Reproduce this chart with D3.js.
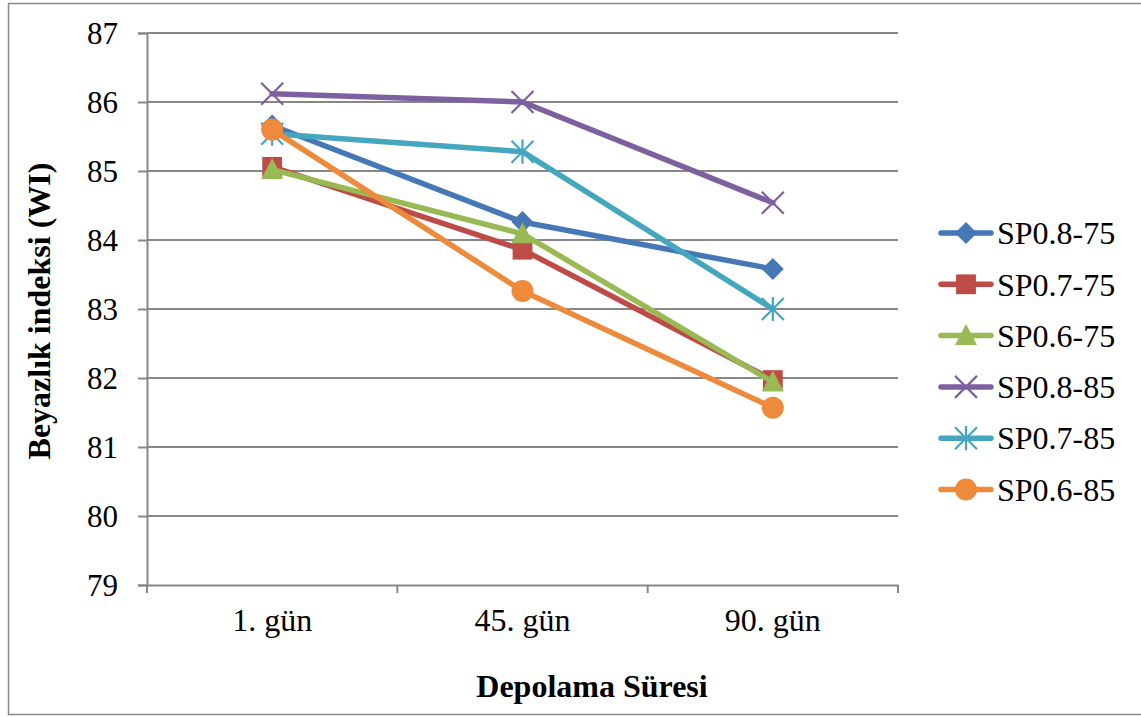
<!DOCTYPE html>
<html>
<head>
<meta charset="utf-8">
<script src="https://cdn.jsdelivr.net/npm/d3@7"></script>
<style>
  body { margin: 0; background: #fff; }
</style>
</head>
<body>
<div class="canvas"></div>
<script>
// Data
const categories = ['1. gün', '45. gün', '90. gün'];
const seriesNames = ['SP0.8-75', 'SP0.7-75', 'SP0.6-75', 'SP0.8-85', 'SP0.7-85', 'SP0.6-85'];
const sp08_75 = [85.66, 84.26, 83.58];
const sp07_75 = [85.06, 83.86, 81.97];
const sp06_75 = [85.02, 84.09, 81.94];
const sp08_85 = [86.12, 86.00, 84.54];
const sp07_85 = [85.54, 85.28, 83.00];
const sp06_85 = [85.60, 83.26, 81.57];
const yTicks = [79, 80, 81, 82, 83, 84, 85, 86, 87];

const seriesValues = [sp08_75, sp07_75, sp06_75, sp08_85, sp07_85, sp06_85];
const colors = ['#4677B7', '#BE4B48', '#98B954', '#7D60A0', '#45A6C0', '#EE8A3C'];
const symbols = ['diamond', 'square', 'triangle', 'x', 'star', 'circle'];

const FONT = "'Liberation Serif', 'Times New Roman', Times, serif";
const width = 1141, height = 717;
const plot = { left: 147, right: 898, top: 33, bottom: 585 };

//Canvas
const svg = d3.select('.canvas')
  .append('svg')
  .attr('width', width)
  .attr('height', height)
  .attr('font-family', FONT);

// outer border (right side runs off the picture)
svg.append('rect')
  .attr('x', 8.5).attr('y', 3.5)
  .attr('width', 1140).attr('height', 711)
  .attr('fill', 'none')
  .attr('stroke', '#888')
  .attr('stroke-width', 1.5);

// Scales
const x = d3.scaleBand().domain(categories).range([plot.left, plot.right]);
const y = d3.scaleLinear().domain([79, 87]).range([plot.bottom, plot.top]);

// Gridlines
svg.append('g')
  .selectAll('line')
  .data(yTicks.slice(1))
  .enter().append('line')
  .attr('x1', plot.left).attr('x2', plot.right)
  .attr('y1', d => y(d)).attr('y2', d => y(d))
  .attr('stroke', '#878787')
  .attr('stroke-width', 2);

// Y axis
const yAxis = svg.append('g')
  .attr('transform', `translate(${plot.left},0)`)
  .call(d3.axisLeft(y).tickValues(yTicks).tickSize(9).tickPadding(20).tickFormat(d3.format('d')));
yAxis.attr('font-family', FONT).attr('font-size', 31);
yAxis.select('.domain').attr('stroke', '#878787').attr('stroke-width', 2);
yAxis.selectAll('.tick line').attr('stroke', '#878787').attr('stroke-width', 2);
yAxis.selectAll('text').attr('fill', '#000').attr('dy', '0.34em');

// X axis
const xAxis = svg.append('g')
  .attr('transform', `translate(0,${plot.bottom})`)
  .call(d3.axisBottom(x).tickSize(0).tickPadding(23));
xAxis.attr('font-family', FONT).attr('font-size', 32);
xAxis.select('.domain').attr('stroke', '#878787').attr('stroke-width', 2);
xAxis.selectAll('text').attr('fill', '#000');
// boundary tick marks
svg.append('g')
  .selectAll('line')
  .data(d3.range(categories.length + 1))
  .enter().append('line')
  .attr('x1', i => plot.left + i * x.step())
  .attr('x2', i => plot.left + i * x.step())
  .attr('y1', plot.bottom).attr('y2', plot.bottom + 8)
  .attr('stroke', '#878787').attr('stroke-width', 2);

// Axis titles
svg.append('text')
  .attr('transform', `translate(50,311) rotate(-90)`)
  .attr('text-anchor', 'middle')
  .attr('font-size', 32).attr('font-weight', 'bold')
  .text('Beyazlık indeksi (WI)');
svg.append('text')
  .attr('x', 592).attr('y', 697)
  .attr('text-anchor', 'middle')
  .attr('font-size', 32).attr('font-weight', 'bold')
  .text('Depolama Süresi');

// Marker drawing
const drawMarker = (g, type, color, cx, cy, s) => {
  if (type === 'diamond') {
    g.append('path').attr('d', `M${cx},${cy - s}L${cx + s},${cy}L${cx},${cy + s}L${cx - s},${cy}Z`).attr('fill', color);
  } else if (type === 'square') {
    g.append('rect').attr('x', cx - s * 0.9).attr('y', cy - s * 0.9).attr('width', s * 1.8).attr('height', s * 1.8).attr('fill', color);
  } else if (type === 'triangle') {
    g.append('path').attr('d', `M${cx},${cy - s * 1.05}L${cx + s},${cy + s * 0.85}L${cx - s},${cy + s * 0.85}Z`).attr('fill', color);
  } else if (type === 'x') {
    g.append('path').attr('d', `M${cx - s},${cy - s}L${cx + s},${cy + s}M${cx - s},${cy + s}L${cx + s},${cy - s}`)
      .attr('stroke', color).attr('stroke-width', 2.2);
  } else if (type === 'star') {
    g.append('path').attr('d', `M${cx - s},${cy - s}L${cx + s},${cy + s}M${cx - s},${cy + s}L${cx + s},${cy - s}M${cx},${cy - s * 1.1}L${cx},${cy + s * 1.1}`)
      .attr('stroke', color).attr('stroke-width', 2.2);
  } else {
    g.append('circle').attr('cx', cx).attr('cy', cy).attr('r', s).attr('fill', color);
  }
};

// Lines
const line = d3.line()
  .x((d, i) => x(categories[i]) + x.bandwidth() / 2)
  .y(d => y(d));

const graph = svg.append('g');
seriesValues.forEach((vals, k) => {
  graph.append('path')
    .datum(vals)
    .attr('d', line)
    .attr('fill', 'none')
    .attr('stroke', colors[k])
    .attr('stroke-width', 5.5)
    .attr('stroke-linejoin', 'round')
    .attr('stroke-linecap', 'round');
  const mg = graph.append('g');
  vals.forEach((v, i) => {
    drawMarker(mg, symbols[k], colors[k], x(categories[i]) + x.bandwidth() / 2, y(v), 11);
  });
});

// Legend
const legendGroup = svg.append('g');
seriesNames.forEach((name, k) => {
  const ly = 233 + k * 51.3;
  legendGroup.append('line')
    .attr('x1', 941).attr('x2', 991)
    .attr('y1', ly).attr('y2', ly)
    .attr('stroke', colors[k]).attr('stroke-width', 5.5)
    .attr('stroke-linecap', 'round');
  drawMarker(legendGroup, symbols[k], colors[k], 966, ly, 11);
  legendGroup.append('text')
    .attr('x', 997).attr('y', ly)
    .attr('dy', '0.35em')
    .attr('font-size', 32)
    .text(name);
});
</script>
</body>
</html>
